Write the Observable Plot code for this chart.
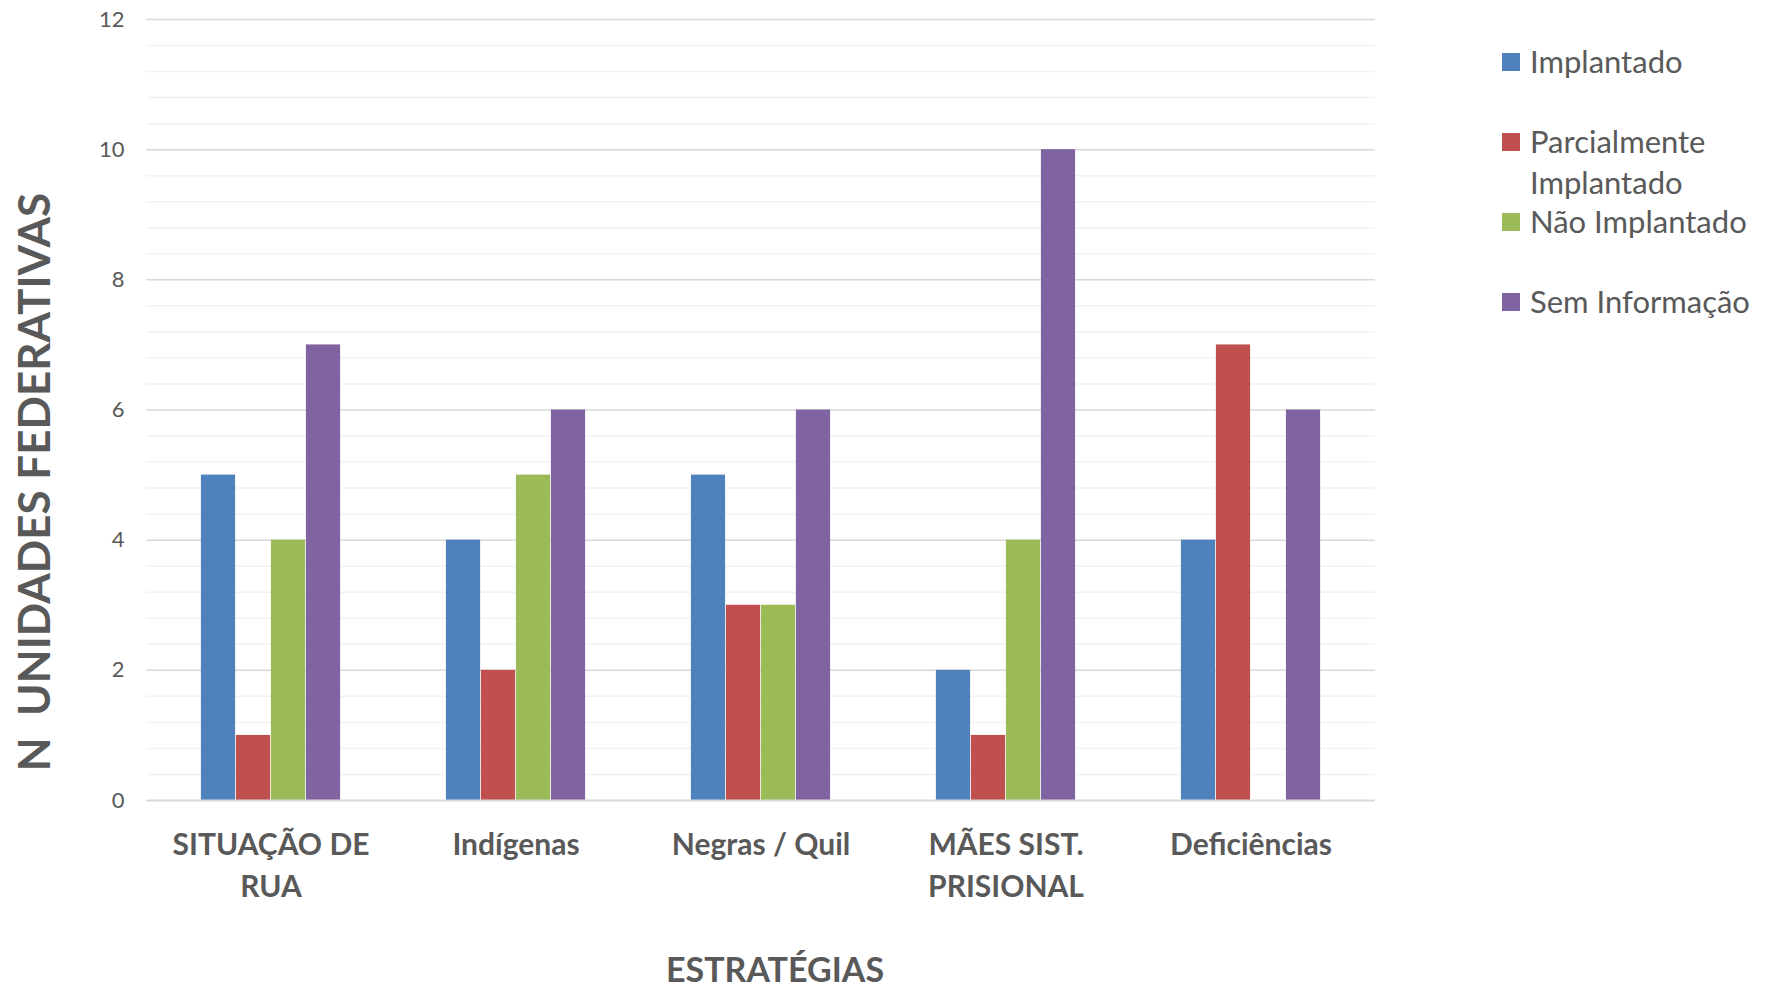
<!DOCTYPE html>
<html>
<head>
<meta charset="utf-8">
<script src="https://cdn.jsdelivr.net/npm/d3@7"></script>
<script src="https://cdn.jsdelivr.net/npm/@observablehq/plot@0.6"></script>
<style>
  html, body { margin: 0; padding: 0; background: #fff; }
  #wrap { position: relative; width: 1767px; height: 988px; font-family: Lato, "Open Sans", sans-serif; }
  #legend { position: absolute; left: 1502px; top: 0; color: #595959; font-size: 31px; }
  .item { position: absolute; left: 0; display: flex; align-items: flex-start; white-space: nowrap; }
  .sw { width: 18px; height: 18px; margin-right: 10px; flex: none; }
  .lbl { line-height: 41px; }
</style>
</head>
<body>
<div id="wrap"></div>
<script>
const categories = ["SITUAÇÃO DE\nRUA", "Indígenas", "Negras / Quil", "MÃES SIST.\nPRISIONAL", "Deficiências"];
const series = ["Implantado", "Parcialmente Implantado", "Não Implantado", "Sem Informação"];
const colors = ["#4F81BD", "#C0504D", "#9BBB59", "#8064A2"];
const implantado = [5, 4, 5, 2, 4];
const parcialmente = [1, 2, 3, 1, 7];
const naoImplantado = [4, 5, 3, 4, 0];
const semInformacao = [7, 6, 6, 10, 6];
const yTicks = [0, 2, 4, 6, 8, 10, 12];
const yTitle = "N  UNIDADES FEDERATIVAS";
const xTitle = "ESTRATÉGIAS";

const values = [implantado, parcialmente, naoImplantado, semInformacao];
const rows = [];
series.forEach((s, j) => categories.forEach((c, i) => rows.push({cat: c, series: s, j, value: values[j][i]})));

const W = 1767, H = 988, ML = 146, MR = 392, MT = 19, MB = 188;
const band = (W - ML - MR) / categories.length;
const barW = 35;
const inset = (band - barW) / 2;
const minor = d3.range(0, 12.001, 0.4).filter(v => Math.abs(v / 2 - Math.round(v / 2)) > 1e-6);

const barMarks = series.map((s, j) => Plot.barY(rows.filter(r => r.j === j), {
  x: "cat", y: "value", fill: colors[j],
  insetLeft: inset, insetRight: inset, dx: (j - 1.5) * barW
}));

const chart = Plot.plot({
  width: W, height: H,
  marginLeft: ML, marginRight: MR, marginTop: MT, marginBottom: MB,
  style: {fontFamily: "Lato, 'Open Sans', sans-serif", color: "#595959", background: "#fff"},
  x: {domain: categories, padding: 0, label: null},
  y: {domain: [0, 12], label: null},
  marks: [
    Plot.ruleY(minor, {stroke: "#f2f2f2", strokeWidth: 1.5}),
    Plot.ruleY(yTicks.filter(v => v > 0), {stroke: "#d9d9d9", strokeWidth: 1.5}),
    ...barMarks,
    Plot.ruleY([0], {stroke: "#d9d9d9", strokeWidth: 2}),
    Plot.axisY({ticks: yTicks, tickSize: 0, tickPadding: 22, fontSize: 22, fill: "#595959", label: null}),
    Plot.axisX({tickSize: 0, tickPadding: 25, fontSize: 30, fontWeight: "bold", fill: "#595959", lineHeight: 1.4, label: null}),
    Plot.text([yTitle], {frameAnchor: "left", textAnchor: "middle", rotate: -90, dx: -111, dy: 72, fontSize: 44, fontWeight: "bold", fill: "#595959"}),
    Plot.text([xTitle], {frameAnchor: "bottom", dx: 14, dy: 181, fontSize: 34, fontWeight: "bold", fill: "#595959"})
  ]
});
const wrap = document.getElementById("wrap");
wrap.appendChild(chart);

const legend = document.createElement("div");
legend.id = "legend";
const legendLabels = ["Implantado", "Parcialmente<br>Implantado", "Não Implantado", "Sem Informação"];
const legendTops = [62, 142, 222, 302];
series.forEach((s, j) => {
  const it = document.createElement("div");
  it.className = "item";
  it.style.top = (legendTops[j] - 9) + "px";
  it.innerHTML = `<div class="sw" style="background:${colors[j]}"></div><div class="lbl" style="margin-top:-12px">${legendLabels[j]}</div>`;
  legend.appendChild(it);
});
wrap.appendChild(legend);
</script>
</body>
</html>
